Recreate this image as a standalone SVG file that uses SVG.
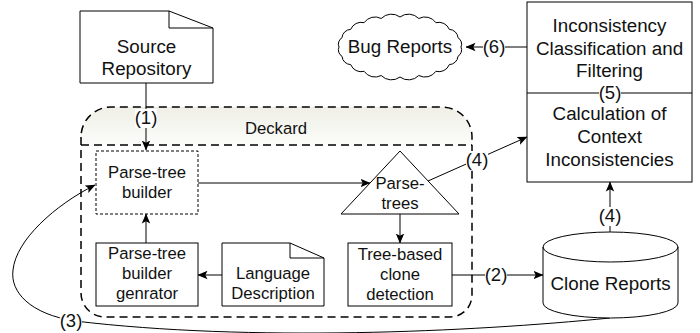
<svg xmlns="http://www.w3.org/2000/svg" width="700" height="333" viewBox="0 0 700 333">
  <defs>
    <linearGradient id="hdr" x1="0" y1="0" x2="0" y2="1">
      <stop offset="0" stop-color="#efefe7"/>
      <stop offset="1" stop-color="#fcfcfa"/>
    </linearGradient>
    <marker id="arr" viewBox="0 0 10 10" refX="9.5" refY="5" markerWidth="10" markerHeight="10" markerUnits="userSpaceOnUse" orient="auto">
      <path d="M0,0.8 L10,5 L0,9.2 L2.2,5 Z" fill="#000"/>
    </marker>
    <style>
      .shape { fill: #fff; stroke: #000; stroke-width: 1; }
      .line { fill: none; stroke: #000; stroke-width: 1; }
      .dash { fill: none; stroke: #000; stroke-width: 1.5; stroke-dasharray: 8 5; }
      .fine { fill: #fff; stroke: #000; stroke-width: 1; stroke-dasharray: 3 2; }
      text { font-family: "Liberation Sans", Arial, sans-serif; fill: #111; text-anchor: middle; }
      .big { font-size: 18.8px; }
      .mid { font-size: 16.7px; }
      .lbl { font-size: 18.5px; }
      .bg { fill: #fff; stroke: none; }
    </style>
  </defs>
  <rect width="700" height="333" fill="#fff"/>

  <!-- Deckard container -->
  <g id="deckard">
    <path d="M81 145 L81 137 A30 30 0 0 1 111 107 L442 107 A30 30 0 0 1 472 137 L472 145 Z" fill="url(#hdr)" stroke="none"/>
    <path class="dash" d="M81 137 L81 293 A24 24 0 0 0 105 317 L450 317 A22 22 0 0 0 472 295 L472 137 A30 30 0 0 0 442 107 L111 107 A30 30 0 0 0 81 137 Z"/>
    <path class="dash" d="M81 145 L472 145"/>
    <text class="mid" x="276" y="134">Deckard</text>
  </g>

  <!-- Connectors -->
  <g id="connectors">
    <path class="line" d="M146 83 L146 150" marker-end="url(#arr)"/>
    <path class="line" d="M146 243 L146 214" marker-end="url(#arr)"/>
    <path class="line" d="M222 275 L198 275" marker-end="url(#arr)"/>
    <path class="line" d="M198 183 L370 183" marker-end="url(#arr)"/>
    <path class="line" d="M400 214 L400 243" marker-end="url(#arr)"/>
    <path class="line" d="M452 275 L543 275" marker-end="url(#arr)"/>
    <path class="line" d="M428 181 L527 137" marker-end="url(#arr)"/>
    <path class="line" d="M610 248 L610 182" marker-end="url(#arr)"/>
    <path class="line" d="M527 47 L466 47" marker-end="url(#arr)"/>
    <path class="line" d="M610 318 C470 332 250 342 75 321 C30 314 10 292 13 270 C16 240 55 205 95 185" marker-end="url(#arr)"/>
  </g>

  <!-- Source Repository -->
  <g id="source-repository">
    <path class="shape" d="M80 11 L169 11 L213 28 L213 83 L80 83 Z"/>
    <path class="line" d="M169 11 L169 28 L213 28"/>
    <text class="big" x="146.5" y="52.5">Source</text>
    <text class="big" x="146.5" y="74.5">Repository</text>
  </g>

  <!-- Parse-tree builder -->
  <g id="parse-tree-builder">
    <rect class="fine" x="96" y="151" width="102" height="63"/>
    <text class="mid" x="147" y="178">Parse-tree</text>
    <text class="mid" x="147" y="198">builder</text>
  </g>

  <!-- Parse-tree builder generator -->
  <g id="builder-generator">
    <rect class="shape" x="96" y="243" width="102" height="63"/>
    <text class="mid" x="147" y="259">Parse-tree</text>
    <text class="mid" x="147" y="279">builder</text>
    <text class="mid" x="147" y="299">genrator</text>
  </g>

  <!-- Language Description -->
  <g id="language-description">
    <path class="shape" d="M222 243 L290 243 L324 258 L324 306 L222 306 Z"/>
    <path class="line" d="M290 243 L290 258 L324 258"/>
    <text class="mid" x="273" y="279">Language</text>
    <text class="mid" x="273" y="299">Description</text>
  </g>

  <!-- Parse-trees -->
  <g id="parse-trees">
    <path class="shape" d="M400 151 L459 214 L341 214 Z"/>
    <text class="mid" x="400" y="189">Parse-</text>
    <text class="mid" x="400" y="209">trees</text>
  </g>

  <!-- Tree-based clone detection -->
  <g id="clone-detection">
    <rect class="shape" x="348" y="243" width="104" height="63"/>
    <text class="mid" x="400" y="260">Tree-based</text>
    <text class="mid" x="400" y="280">clone</text>
    <text class="mid" x="400" y="300">detection</text>
  </g>

  <!-- Clone Reports -->
  <g id="clone-reports">
    <path class="shape" d="M543 247 A67.5 15 0 0 1 678 247 L678 303 A67.5 15 0 0 1 543 303 Z"/>
    <path class="line" d="M543 247 A67.5 15 0 0 0 678 247"/>
    <text class="big" x="610.5" y="290">Clone Reports</text>
  </g>

  <!-- Inconsistency analysis -->
  <g id="inconsistency">
    <rect class="shape" x="527" y="2" width="165" height="180"/>
    <path class="line" d="M527 93 L692 93"/>
    <text class="big" x="609.5" y="32">Inconsistency</text>
    <text class="big" x="609.5" y="55">Classification and</text>
    <text class="big" x="609.5" y="77">Filtering</text>
    <text class="big" x="609.5" y="120">Calculation of</text>
    <text class="big" x="609.5" y="143">Context</text>
    <text class="big" x="609.5" y="166">Inconsistencies</text>
  </g>

  <!-- Bug Reports -->
  <g id="bug-reports">
    <path class="shape" d="M461 47 A7.4 7.4 0 0 1 458 56.3 A9 9 0 0 1 449.3 64.6 A11.2 11.2 0 0 1 435.9 71.3 A13.2 13.2 0 0 1 418.8 75.5 A14.2 14.2 0 0 1 400 77 A14.2 14.2 0 0 1 381.2 75.5 A13.2 13.2 0 0 1 364.1 71.3 A11.2 11.2 0 0 1 350.7 64.6 A9 9 0 0 1 342 56.3 A7.4 7.4 0 0 1 339 47 A7.4 7.4 0 0 1 342 37.7 A9 9 0 0 1 350.7 29.4 A11.2 11.2 0 0 1 364.1 22.7 A13.2 13.2 0 0 1 381.2 18.5 A14.2 14.2 0 0 1 400 17 A14.2 14.2 0 0 1 418.8 18.5 A13.2 13.2 0 0 1 435.9 22.7 A11.2 11.2 0 0 1 449.3 29.4 A9 9 0 0 1 458 37.7 A7.4 7.4 0 0 1 461 47 Z"/>
    <text class="big" x="400" y="53">Bug Reports</text>
  </g>

  <!-- Step labels -->
  <g id="labels">
    <rect class="bg" x="135" y="109" width="22" height="19"/>
    <text class="lbl" x="146" y="124">(1)</text>
    <rect class="bg" x="485" y="266" width="22" height="19"/>
    <text class="lbl" x="496" y="281">(2)</text>
    <rect class="bg" x="60" y="312" width="22" height="19"/>
    <text class="lbl" x="71" y="327">(3)</text>
    <rect class="bg" x="466" y="151" width="22" height="19"/>
    <text class="lbl" x="477" y="166">(4)</text>
    <rect class="bg" x="599" y="207" width="22" height="19"/>
    <text class="lbl" x="610" y="222">(4)</text>
    <rect class="bg" x="599" y="84" width="22" height="18"/>
    <text class="lbl" x="610" y="99">(5)</text>
    <rect class="bg" x="483" y="38" width="22" height="19"/>
    <text class="lbl" x="494" y="53">(6)</text>
  </g>
</svg>
